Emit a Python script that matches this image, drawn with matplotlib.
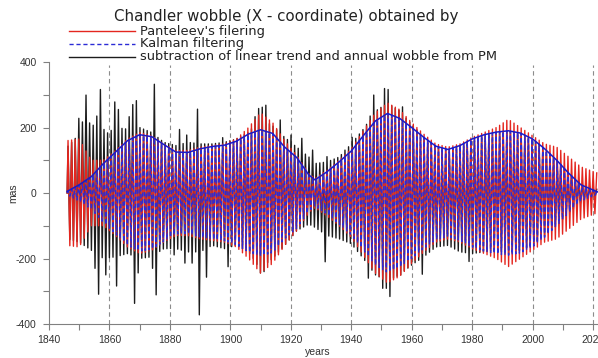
import matplotlib
matplotlib.use('Agg')
import matplotlib.pyplot as plt
from matplotlib.lines import Line2D
import numpy as np

plt.rcParams['font.family'] = ['Liberation Sans', 'DejaVu Sans']
plt.rcParams['axes.unicode_minus'] = False

# amplitude knots (mas)
knot_years = [1846, 1850, 1854, 1858, 1862, 1866, 1870, 1874, 1878, 1882, 1886, 1890,
              1894, 1898, 1902, 1906, 1910, 1914, 1918, 1922, 1926, 1928, 1932, 1936,
              1940, 1944, 1948, 1952, 1956, 1960, 1964, 1968, 1972, 1976, 1980, 1984,
              1988, 1992, 1996, 2000, 2004, 2008, 2012, 2016, 2021.6]
envelope = [5, 25, 50, 90, 125, 160, 178, 172, 148, 125, 124, 135,
            142, 146, 158, 180, 193, 182, 140, 108, 55, 40, 65, 95,
            128, 175, 220, 243, 228, 200, 170, 143, 133, 145, 165, 178,
            186, 190, 183, 165, 135, 100, 60, 25, 3]
panteleev_amp = [160, 165, 100, 100, 130, 165, 185, 175, 150, 130, 130, 140,
                 145, 150, 165, 200, 245, 215, 160, 115, 60, 45, 70, 100,
                 135, 190, 245, 275, 255, 215, 180, 150, 140, 150, 170, 185,
                 200, 225, 200, 175, 150, 140, 110, 80, 60]
black_top = [140, 180, 185, 175, 200, 195, 200, 185, 155, 145, 155, 150,
             150, 155, 165, 185, 230, 205, 170, 140, 110, 90, 95, 110,
             150, 195, 250, 275, 250, 210, 170, 140, 130, 145, 160, 175,
             180, 190, 180, 160, 130, 100, 60, 30, 10]
black_bottom = [140, 150, 175, 200, 195, 185, 200, 195, 170, 170, 180, 180,
                160, 170, 160, 180, 230, 200, 160, 115, 95, 105, 130, 140,
                155, 200, 250, 270, 250, 220, 195, 165, 160, 180, 185, 180,
                175, 185, 175, 160, 130, 100, 60, 30, 10]

# isolated spikes of the raw series
spike_up_years = [1849.5, 1851.4, 1852.1, 1853.6, 1855.2, 1856.1, 1857.2, 1858.3, 1861.2,
                  1862.1, 1863.4, 1866.9, 1868.1, 1869.5, 1872.9, 1874.3, 1875.3, 1883.4,
                  1885.8, 1889.4, 1897.7, 1905.5, 1908.2, 1909.5, 1910.6, 1911.8, 1914.6,
                  1916.8, 1920.4, 1923.7, 1927.0, 1932.5, 1938.3, 1940.8, 1946.0, 1946.9,
                  1948.0, 1949.4, 1951.6, 1952.6, 1955.3, 1957.3]
spike_up = [228, 217, 299, 214, 207, 235, 316, 194, 263,
            278, 255, 233, 270, 282, 179, 332, 253, 194,
            177, 256, 169, 184, 233, 258, 262, 268, 204,
            223, 177, 167, 131, 111, 131, 170, 235, 274,
            299, 255, 319, 316, 253, 263]
spike_down_years = [1855.5, 1856.9, 1858.8, 1862.7, 1868.8, 1869.8, 1873.7, 1875.8, 1881.7,
                    1885.3, 1887.6, 1889.8, 1892.2, 1899.4, 1908.2, 1909.5, 1910.6, 1931.0,
                    1946.1, 1950.7, 1952.0, 1953.2, 1956.8, 1964.0, 1979.4]
spike_down = [-230, -309, -250, -284, -337, -244, -230, -311, -189,
              -214, -214, -372, -257, -225, -218, -244, -240, -210,
              -260, -291, -291, -316, -250, -248, -209]

chandler_period = 1.19  # years
start_year = 1846.0
end_year = 2021.6

# extremum times (half-period steps)
t = np.arange(start_year + chandler_period / 4, end_year, chandler_period / 2)
sign = np.where(np.arange(len(t)) % 2 == 0, 1, -1)

kalman = sign * np.interp(t, knot_years, envelope)
pant = sign * np.interp(t, knot_years, panteleev_amp)
black = np.where(sign > 0, np.interp(t, knot_years, black_top),
                 -np.interp(t, knot_years, black_bottom))

up_idx = np.where(sign > 0)[0]
down_idx = np.where(sign < 0)[0]
for yr, v in zip(spike_up_years, spike_up):
	i = up_idx[np.argmin(np.abs(t[up_idx] - yr))]
	black[i] = max(black[i], v)
for yr, v in zip(spike_down_years, spike_down):
	i = down_idx[np.argmin(np.abs(t[down_idx] - yr))]
	black[i] = min(black[i], v)

t = np.concatenate([[start_year], t])
kalman = np.concatenate([[0], kalman])
pant = np.concatenate([[0], pant])
black = np.concatenate([[0], black])

red = '#e4261f'
blue = '#2b2bd6'
dark = '#1c1c1c'
grey = '#808080'

fig = plt.figure(figsize=(5.98, 3.58), dpi=100)
ax = fig.add_axes([49 / 598, 1 - 324 / 358, 1 - 49 / 598, (324 - 62) / 358])

ax.vlines(range(1860, 2021, 20), -400, 390, colors='#8c8c8c', linestyles=(0, (4, 3)), linewidth=0.8, zorder=1)

ax.plot(t, black, color=dark, linewidth=1.0, zorder=2)
ax.plot(t, pant, color=red, linewidth=1.0, zorder=3)
ax.plot(t, kalman, color=blue, linewidth=1.0, dashes=(3, 2), zorder=4)
ax.plot(knot_years, envelope, color='#1a1ac8', linewidth=1.1, zorder=5)

ax.set_xlim(1840, 2021.65)
ax.set_ylim(-400, 400)
ax.set_xticks(range(1840, 2021, 20))
ax.set_xticks(range(1850, 2021, 20), minor=True)
ax.set_yticks(range(-400, 401, 200))
ax.set_yticks(range(-300, 301, 200), minor=True)
for s in ['top', 'right']:
	ax.spines[s].set_visible(False)
for s in ['left', 'bottom']:
	ax.spines[s].set_color(grey)
	ax.spines[s].set_linewidth(0.8)
ax.tick_params(which='both', direction='out', length=4, width=0.8, color=grey,
               labelsize=7.5, labelcolor='#333333')
ax.tick_params(axis='y', pad=5)
ax.tick_params(axis='x', pad=4)

# title and key use a wider face to match the stretched lettering
wide = ['DejaVu Sans']
fig.text(286 / 598, 1 - 17 / 358, 'Chandler wobble (X - coordinate) obtained by',
         ha='center', va='center', fontsize=10.8, color='#222222', family=wide)
legend_rows = [("Panteleev's filering", red, '-'),
               ('Kalman filtering', blue, '--'),
               ('subtraction of linear trend and annual wobble from PM', dark, '-')]
for n, (label, c, ls) in enumerate(legend_rows):
	yy = 1 - (31 + 13 * n) / 358
	ln = Line2D([69 / 598, 135 / 598], [yy, yy], transform=fig.transFigure, color=c, linewidth=1.0)
	if ls == '--':
		ln.set_dashes((3, 2))
	fig.add_artist(ln)
	fig.text(140 / 598, yy, label, ha='left', va='center', fontsize=9.4, color='#222222', family=wide)

fig.text(13 / 598, 1 - 193 / 358, 'mas', rotation=90, ha='center', va='center', fontsize=7.5, color='#333333')
fig.text(318 / 598, 1 - 347 / 358, 'years', ha='center', va='top', fontsize=7.5, color='#333333')

fig.savefig('out.png', dpi=100)
